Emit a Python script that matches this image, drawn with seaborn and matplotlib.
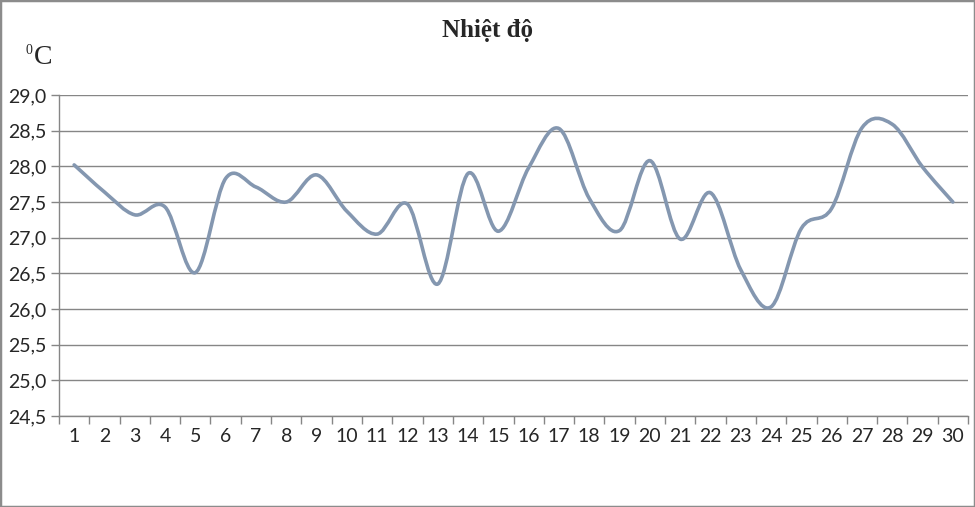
import matplotlib
matplotlib.use("Agg")
import matplotlib.pyplot as plt
import numpy as np
import seaborn as sns
from matplotlib.patches import PathPatch, Rectangle
from matplotlib.path import Path
from matplotlib.ticker import FuncFormatter, MultipleLocator

# daily temperature, days 1..30
days = list(range(1, 31))
temps = [28.02, 27.64, 27.32, 27.43, 26.51, 27.83, 27.71, 27.50, 27.88, 27.37,
         27.05, 27.47, 26.35, 27.90, 27.09, 27.98, 28.53, 27.55, 27.10, 28.08,
         26.98, 27.63, 26.55, 26.03, 27.13, 27.41, 28.54, 28.59, 27.99, 27.50]
y_ticks = [24.5, 25.0, 25.5, 26.0, 26.5, 27.0, 27.5, 28.0, 28.5, 29.0]

LINE_COLOR = "#8497b0"
GRID_COLOR = "#868686"


def smooth_path(x, y):
    """Excel-like smoothed line: cubic Bezier through every data point."""
    x = np.asarray(x, float)
    y = np.asarray(y, float)
    n = len(x)
    verts = [(x[0], y[0])]
    codes = [Path.MOVETO]
    for i in range(n - 1):
        p0 = i - 1 if i > 0 else i
        p3 = i + 2 if i + 2 < n else i + 1
        c1 = (x[i] + (x[i + 1] - x[p0]) / 6, y[i] + (y[i + 1] - y[p0]) / 6)
        c2 = (x[i + 1] - (x[p3] - x[i]) / 6, y[i + 1] - (y[p3] - y[i]) / 6)
        verts += [c1, c2, (x[i + 1], y[i + 1])]
        codes += [Path.CURVE4] * 3
    return Path(verts, codes)


sns.set_theme(style="white")
plt.rcParams["font.family"] = ["Lato", "DejaVu Sans"]

fig = plt.figure(figsize=(9.75, 5.07), dpi=100)
ax = fig.add_axes([59 / 975, 1 - 416 / 507, (968 - 59) / 975, (416 - 95) / 507])

# seaborn draws the series; its straight segments are swapped for a smoothed path
sns.lineplot(x=days, y=temps, ax=ax, color=LINE_COLOR, linewidth=2.6)
line = ax.lines[0]
xd, yd = line.get_data()
line.set_visible(False)
ax.add_patch(PathPatch(smooth_path(xd, yd), facecolor="none", edgecolor=LINE_COLOR,
                       linewidth=2.6, capstyle="round", joinstyle="round", zorder=3))

ax.set_xlim(0.5, 30.5)
ax.set_ylim(y_ticks[0], y_ticks[-1])
ax.set_yticks(y_ticks)
ax.yaxis.set_major_formatter(FuncFormatter(lambda v, _: f"{v:.1f}".replace(".", ",")))
ax.set_xticks(days)
ax.set_xticklabels([str(d) for d in days])
ax.xaxis.set_minor_locator(MultipleLocator(1, offset=0.5))

ax.grid(axis="y", color=GRID_COLOR, linewidth=1.0)
ax.set_axisbelow(True)
for side in ["top", "right"]:
    ax.spines[side].set_visible(False)
for side in ["left", "bottom"]:
    ax.spines[side].set_color(GRID_COLOR)
    ax.spines[side].set_linewidth(1.0)

ax.tick_params(axis="y", which="major", length=6, width=1, color=GRID_COLOR,
               labelsize=14, pad=3, left=True)
ax.tick_params(axis="x", which="major", length=0, labelsize=14, pad=9)
ax.tick_params(axis="x", which="minor", length=6, width=1, color=GRID_COLOR,
               bottom=True)
ax.set_xlabel("")
ax.set_ylabel("")

fig.text(0.5, 1 - 31 / 507, "Nhiệt độ", ha="center", va="center",
         family="Liberation Serif", fontweight="bold", fontsize=18)
fig.text(29 / 975, 1 - 50 / 507, "0", ha="center", va="center",
         family="Liberation Serif", fontsize=10)
fig.text(34 / 975, 1 - 58 / 507, "C", ha="left", va="center",
         family="Liberation Serif", fontsize=20)

fig.patches.append(Rectangle((0, 0), 1, 1, transform=fig.transFigure, fill=False,
                             edgecolor="#8c8c8c", linewidth=2.5))

fig.savefig("out.png", dpi=100)
